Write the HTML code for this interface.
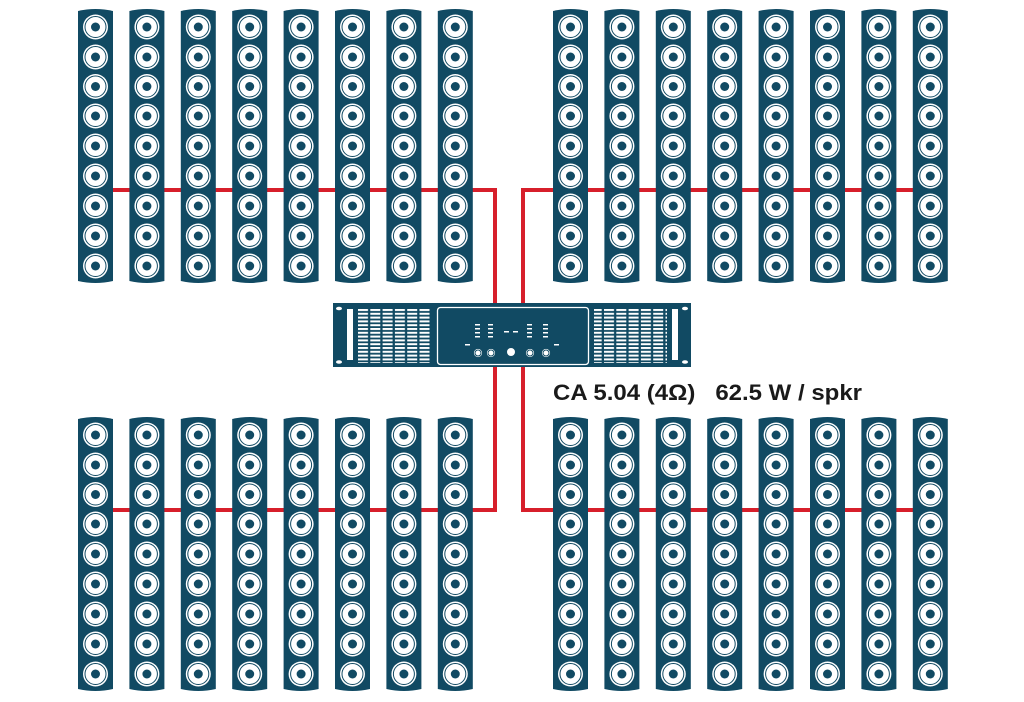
<!DOCTYPE html>
<html><head><meta charset="utf-8"><style>
html,body{margin:0;padding:0;background:#fff;}
svg{display:block;}
text{font-family:"Liberation Sans",sans-serif;font-weight:bold;}
</style></head><body>
<svg width="1024" height="702" viewBox="0 0 1024 702" xmlns="http://www.w3.org/2000/svg">
<defs>
<g id="drv">
<circle r="12.5" fill="#fff"/>
<circle r="10.5" fill="none" stroke="#114a63" stroke-width="1"/>
<circle r="4.5" fill="#114a63"/>
</g>
<g id="col">
<path d="M0,3 Q17.5,-1 35,3 V273 Q17.5,277 0,273 Z" fill="#114a63"/>
<use href="#drv" x="17.5" y="19"/>
<use href="#drv" x="17.5" y="49"/>
<use href="#drv" x="17.5" y="78.5"/>
<use href="#drv" x="17.5" y="108"/>
<use href="#drv" x="17.5" y="138"/>
<use href="#drv" x="17.5" y="168"/>
<use href="#drv" x="17.5" y="198"/>
<use href="#drv" x="17.5" y="228"/>
<use href="#drv" x="17.5" y="258"/>
</g>
<g id="row">
<use href="#col" x="0"/><use href="#col" x="51.4"/><use href="#col" x="102.8"/><use href="#col" x="154.2"/>
<use href="#col" x="205.6"/><use href="#col" x="257"/><use href="#col" x="308.4"/><use href="#col" x="359.8"/>
</g>
<pattern id="grille" x="358" y="309" width="12.3" height="3.8" patternUnits="userSpaceOnUse">
<rect x="0" y="0" width="10" height="2" fill="#fff"/>
</pattern>
</defs>
<g stroke="#d71f2b" stroke-width="4" fill="none">
<polyline points="80,190 495,190 495,305"/>
<polyline points="940,190 523,190 523,305"/>
<polyline points="80,510 495,510 495,365"/>
<polyline points="940,510 523,510 523,365"/>
</g>
<use href="#row" x="78" y="8"/>
<use href="#row" x="553" y="8"/>
<use href="#row" x="78" y="416"/>
<use href="#row" x="553" y="416"/>
<rect x="333" y="303" width="358" height="64" fill="#114a63"/>
<ellipse cx="339" cy="308.5" rx="3" ry="1.8" fill="#fff"/>
<ellipse cx="339" cy="362" rx="3" ry="1.8" fill="#fff"/>
<ellipse cx="685" cy="308.5" rx="3" ry="1.8" fill="#fff"/>
<ellipse cx="685" cy="362" rx="3" ry="1.8" fill="#fff"/>
<rect x="347" y="309" width="6" height="51" fill="#fff"/>
<rect x="672" y="309" width="6" height="51" fill="#fff"/>
<rect x="358" y="309" width="73" height="54" fill="url(#grille)"/>
<rect x="594" y="309" width="73" height="54" fill="url(#grille)"/>
<rect x="437.5" y="307.5" width="151" height="57" rx="3" fill="none" stroke="#fff" stroke-width="1.3"/>
<g fill="#fff">
<rect x="475" y="324" width="5" height="1.5"/><rect x="475" y="328" width="5" height="1.5"/><rect x="475" y="332" width="5" height="1.5"/><rect x="475" y="336" width="5" height="1.5"/>
<rect x="488" y="324" width="5" height="1.5"/><rect x="488" y="328" width="5" height="1.5"/><rect x="488" y="332" width="5" height="1.5"/><rect x="488" y="336" width="5" height="1.5"/>
<rect x="527" y="324" width="5" height="1.5"/><rect x="527" y="328" width="5" height="1.5"/><rect x="527" y="332" width="5" height="1.5"/><rect x="527" y="336" width="5" height="1.5"/>
<rect x="543" y="324" width="5" height="1.5"/><rect x="543" y="328" width="5" height="1.5"/><rect x="543" y="332" width="5" height="1.5"/><rect x="543" y="336" width="5" height="1.5"/>
<rect x="504" y="331" width="5" height="1.5"/><rect x="513" y="331" width="5" height="1.5"/>
<rect x="465" y="344" width="5" height="1.5"/><rect x="554" y="344" width="5" height="1.5"/>
<circle cx="511" cy="352" r="4"/>
</g>
<g fill="#fff" stroke="#114a63" stroke-width="0.8">
<circle cx="478" cy="353" r="4.5"/><circle cx="491" cy="353" r="4.5"/>
<circle cx="530" cy="353" r="4.5"/><circle cx="546" cy="353" r="4.5"/>
</g>
<g fill="none" stroke="#114a63" stroke-width="1">
<circle cx="478" cy="353" r="3"/><circle cx="491" cy="353" r="3"/>
<circle cx="530" cy="353" r="3"/><circle cx="546" cy="353" r="3"/>
</g>
<text x="553" y="400" font-size="22" fill="#1a1a1a" textLength="309" lengthAdjust="spacingAndGlyphs">CA 5.04 (4Ω)&#160;&#160; 62.5 W / spkr</text>
</svg>
</body></html>
